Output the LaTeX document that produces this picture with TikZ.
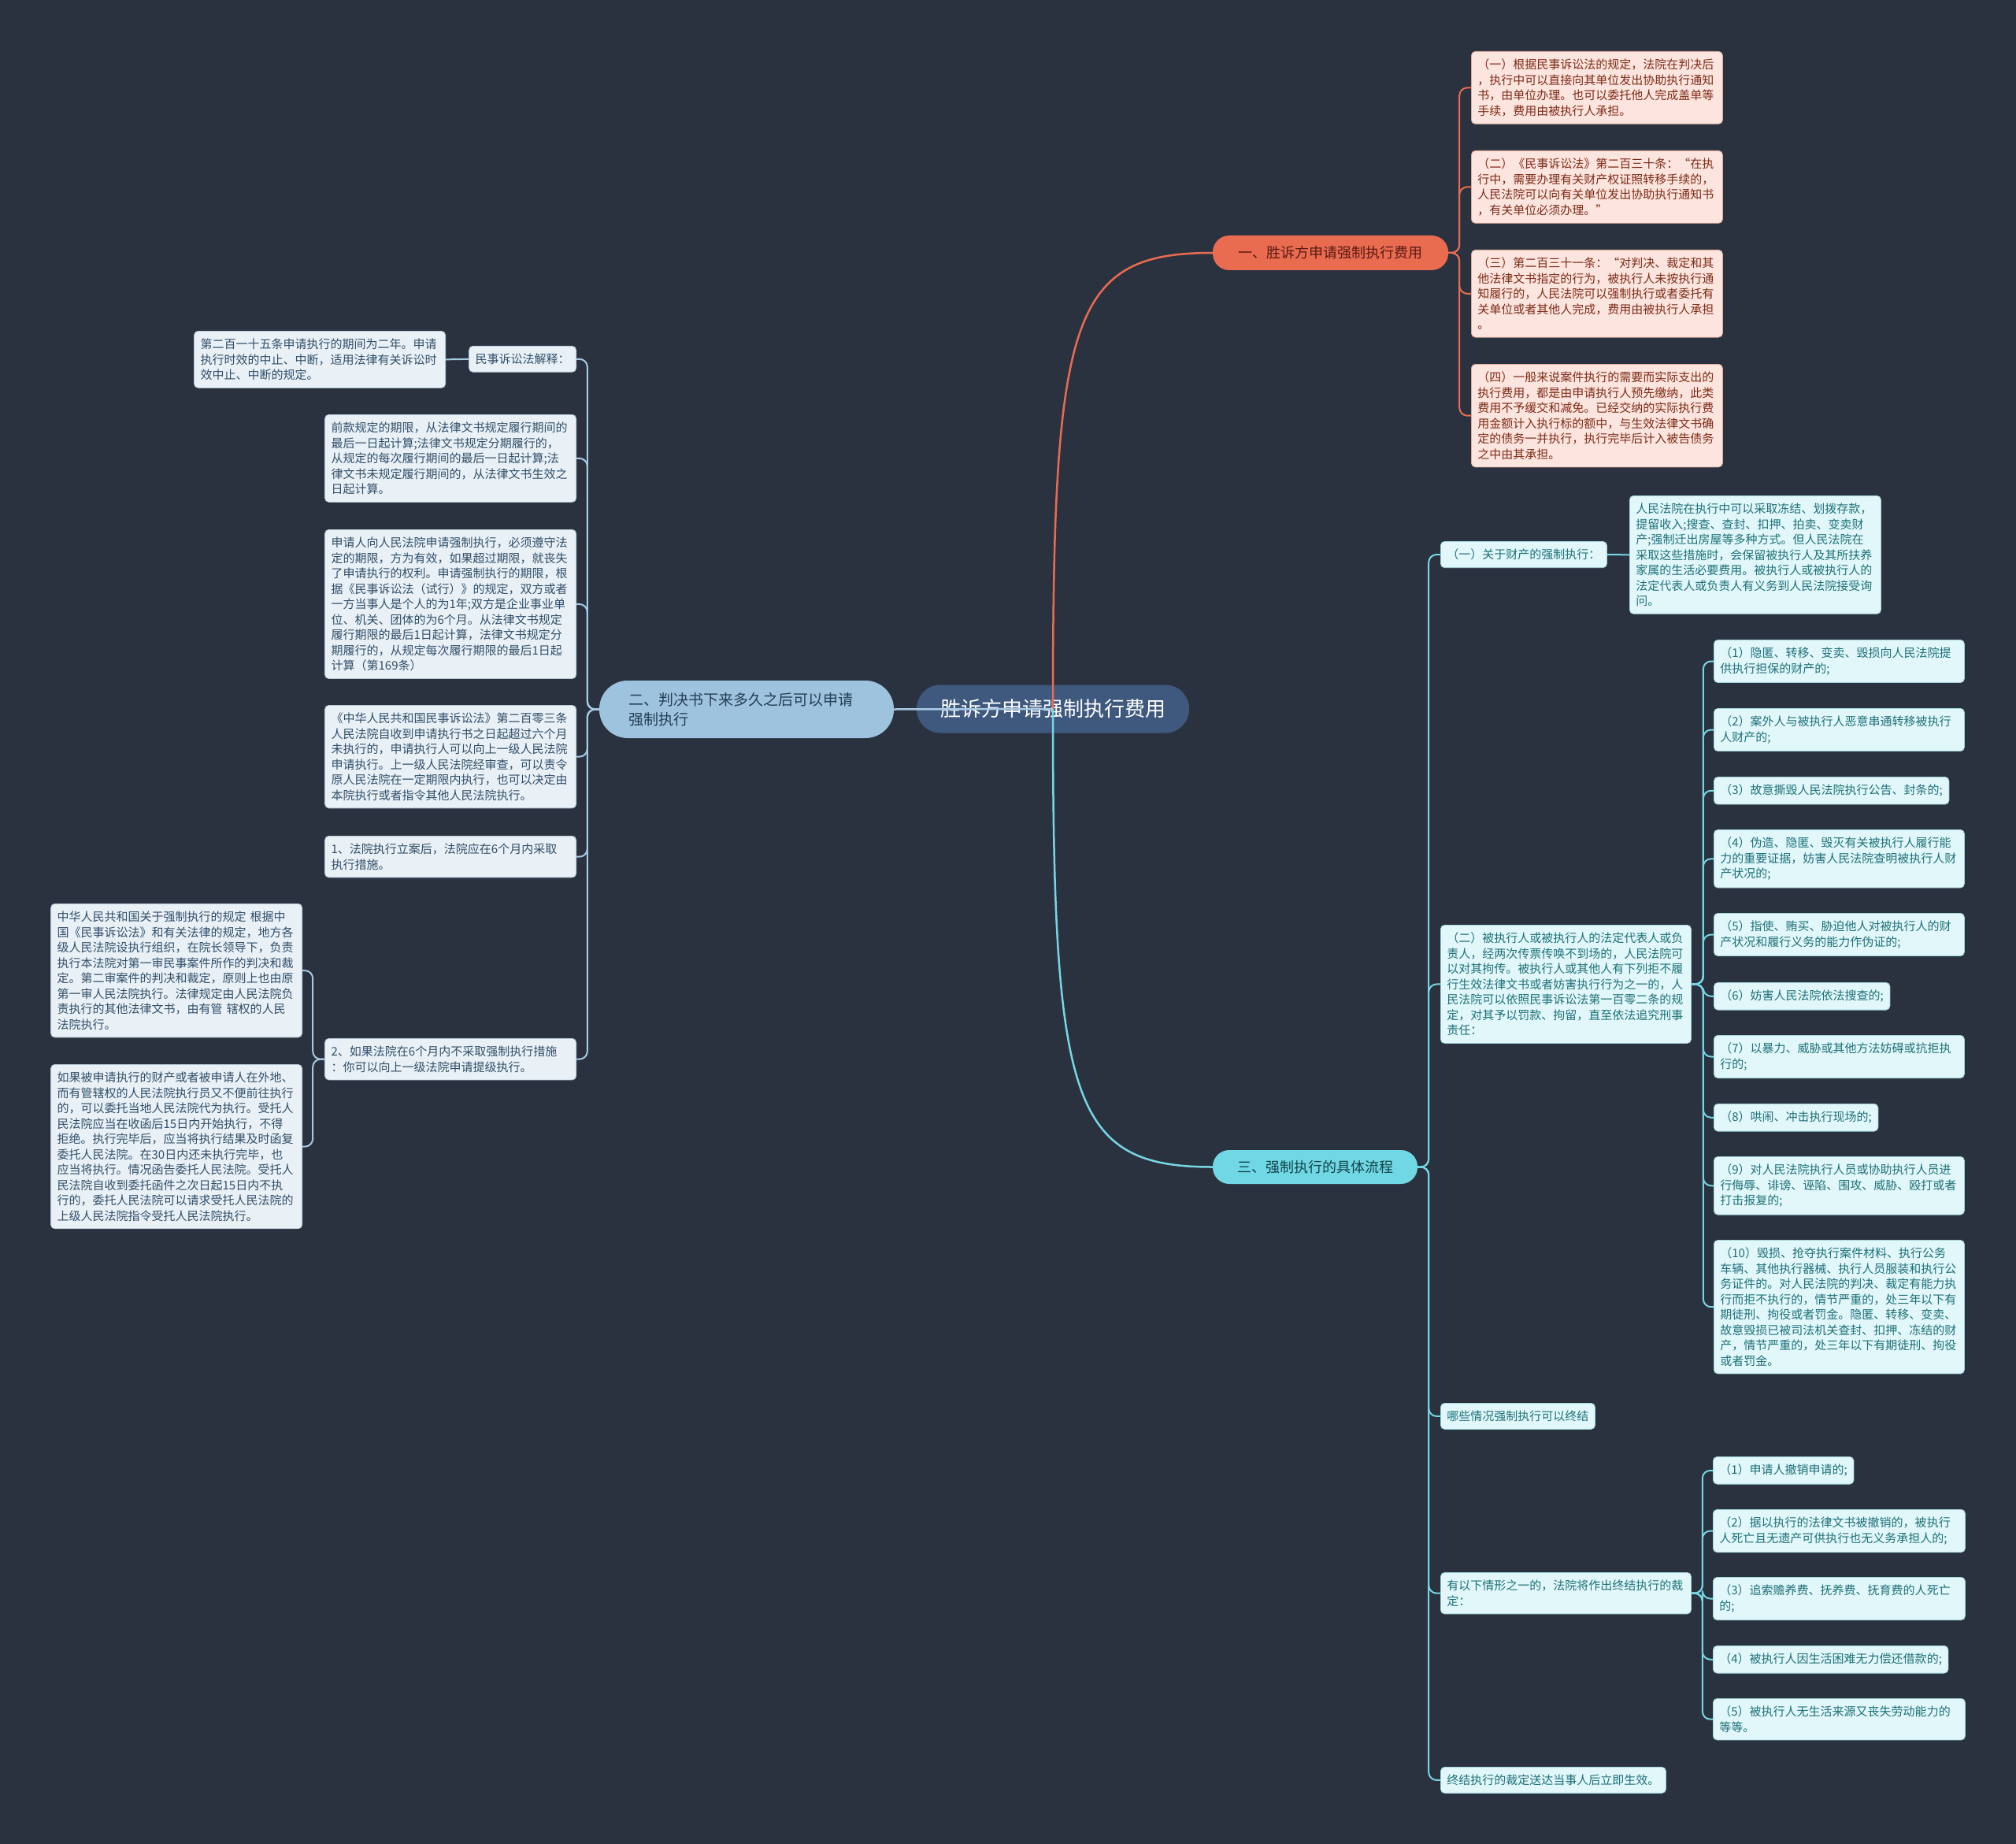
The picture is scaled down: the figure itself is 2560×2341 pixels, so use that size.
\documentclass[tikz,border=0pt]{standalone}
\usepackage{fontspec}
\setmainfont{Noto Sans CJK SC}
\usepackage{tikz}
\definecolor{bgnavy}{RGB}{42,50,64}
\definecolor{rootblue}{RGB}{62,89,125}
\definecolor{redmain}{RGB}{233,107,80}
\definecolor{redink}{RGB}{125,42,22}
\definecolor{redtopicink}{RGB}{88,26,20}
\definecolor{redleafbg}{RGB}{252,229,222}
\definecolor{redleafrim}{RGB}{222,170,152}
\definecolor{bluemain}{RGB}{157,195,222}
\definecolor{bluelinec}{RGB}{168,201,226}
\definecolor{blueink}{RGB}{48,78,104}
\definecolor{blueleafbg}{RGB}{233,241,247}
\definecolor{blueleafrim}{RGB}{180,200,216}
\definecolor{cyanmain}{RGB}{112,216,228}
\definecolor{cyanlinec}{RGB}{118,214,226}
\definecolor{cyanink}{RGB}{28,112,122}
\definecolor{cyanleafbg}{RGB}{226,247,249}
\definecolor{cyanleafrim}{RGB}{160,212,218}

\begin{document}
\begin{tikzpicture}[x=1pt, y=-1pt,
  txt/.style={font=\fontsize{15}{19.5}\selectfont, align=left, inner xsep=8pt, inner ysep=9.5pt, rounded corners=5pt, line width=0.8pt},
  redleaf/.style={txt, draw=redleafrim, fill=redleafbg, text=redink},
  blueleaf/.style={txt, draw=blueleafrim, fill=blueleafbg, text=blueink},
  cyanleaf/.style={txt, draw=cyanleafrim, fill=cyanleafbg, text=cyanink},
  topic/.style={font=\fontsize{18}{23}\selectfont, rounded corners=21pt, inner sep=0pt},
  redlink/.style={draw=redmain, line width=2pt, rounded corners=10pt},
  bluelink/.style={draw=bluelinec, line width=2pt, rounded corners=10pt},
  cyanlink/.style={draw=cyanlinec, line width=2pt, rounded corners=10pt}]

  % Background and page size
  \fill[bgnavy] (0,0) rectangle (2560,2341);
  \useasboundingbox (0,0) rectangle (2560,2341);

  % Root topic
  \node[fill=rootblue, text=white, font=\fontsize{26}{30}\selectfont, rounded corners=30pt, minimum width=346pt, minimum height=61pt, inner sep=0pt] (root) at (1337,900) {胜诉方申请强制执行费用};

  % Main topics
  \node[topic, fill=redmain, text=redtopicink, minimum width=299pt, minimum height=44pt] (fee) at (1689.5,321) {一、胜诉方申请强制执行费用};
  \node[fill=bluemain, text=blueink!80!black, font=\fontsize{19}{25}\selectfont, rounded corners=36pt, minimum width=374pt, minimum height=73pt, text width=300pt, align=left, inner sep=0pt] (when) at (948,900.5) {二、判决书下来多久之后可以申请\\强制执行};
  \node[topic, fill=cyanmain, text=cyanink!60!black, minimum width=260pt, minimum height=43pt] (flow) at (1670,1481.5) {三、强制执行的具体流程};

  % Branch one: cost items
  \node[redleaf, anchor=north west, text width=303pt] (cost1) at (1868,65) {（一）根据民事诉讼法的规定，法院在判决后\\，执行中可以直接向其单位发出协助执行通知\\书，由单位办理。也可以委托他人完成盖单等\\手续，费用由被执行人承担。};
  \node[redleaf, anchor=north west, text width=303pt] (cost2) at (1868,191) {（二）《民事诉讼法》第二百三十条：“在执\\行中，需要办理有关财产权证照转移手续的，\\人民法院可以向有关单位发出协助执行通知书\\，有关单位必须办理。”};
  \node[redleaf, anchor=north west, text width=303pt] (cost3) at (1868,317) {（三）第二百三十一条：“对判决、裁定和其\\他法律文书指定的行为，被执行人未按执行通\\知履行的，人民法院可以强制执行或者委托有\\关单位或者其他人完成，费用由被执行人承担\\。};
  \node[redleaf, anchor=north west, text width=303pt] (cost4) at (1868,462) {（四）一般来说案件执行的需要而实际支出的\\执行费用，都是由申请执行人预先缴纳，此类\\费用不予缓交和减免。已经交纳的实际执行费\\用金额计入执行标的额中，与生效法律文书确\\定的债务一并执行，执行完毕后计入被告债务\\之中由其承担。};

  % Branch two: time limits
  \node[blueleaf, anchor=north east] (interp) at (732,439) {民事诉讼法解释：};
  \node[blueleaf, anchor=north east, text width=303pt] (art215) at (566,420) {第二百一十五条申请执行的期间为二年。申请\\执行时效的中止、中断，适用法律有关诉讼时\\效中止、中断的规定。};
  \node[blueleaf, anchor=north east, text width=303pt] (period) at (732,526) {前款规定的期限，从法律文书规定履行期间的\\最后一日起计算;法律文书规定分期履行的，\\从规定的每次履行期间的最后一日起计算;法\\律文书未规定履行期间的，从法律文书生效之\\日起计算。};
  \node[blueleaf, anchor=north east, text width=303pt] (apply) at (732,672) {申请人向人民法院申请强制执行，必须遵守法\\定的期限，方为有效，如果超过期限，就丧失\\了申请执行的权利。申请强制执行的期限，根\\据《民事诉讼法（试行）》的规定，双方或者\\一方当事人是个人的为1年;双方是企业事业单\\位、机关、团体的为6个月。从法律文书规定\\履行期限的最后1日起计算，法律文书规定分\\期履行的，从规定每次履行期限的最后1日起\\计算（第169条）};
  \node[blueleaf, anchor=north east, text width=303pt] (art203) at (732,895) {《中华人民共和国民事诉讼法》第二百零三条\\人民法院自收到申请执行书之日起超过六个月\\未执行的，申请执行人可以向上一级人民法院\\申请执行。上一级人民法院经审查，可以责令\\原人民法院在一定期限内执行，也可以决定由\\本院执行或者指令其他人民法院执行。};
  \node[blueleaf, anchor=north east, text width=303pt] (step1) at (732,1061) {1、法院执行立案后，法院应在6个月内采取\\执行措施。};
  \node[blueleaf, anchor=north east, text width=303pt] (step2) at (732,1318) {2、如果法院在6个月内不采取强制执行措施\\：你可以向上一级法院申请提级执行。};
  \node[blueleaf, anchor=north east, text width=303pt] (rule) at (384,1147) {中华人民共和国关于强制执行的规定 根据中\\国《民事诉讼法》和有关法律的规定，地方各\\级人民法院设执行组织，在院长领导下，负责\\执行本法院对第一审民事案件所作的判决和裁\\定。第二审案件的判决和裁定，原则上也由原\\第一审人民法院执行。法律规定由人民法院负\\责执行的其他法律文书，由有管 辖权的人民\\法院执行。};
  \node[blueleaf, anchor=north east, text width=303pt] (entrust) at (384,1351) {如果被申请执行的财产或者被申请人在外地、\\而有管辖权的人民法院执行员又不便前往执行\\的，可以委托当地人民法院代为执行。受托人\\民法院应当在收函后15日内开始执行，不得\\拒绝。执行完毕后，应当将执行结果及时函复\\委托人民法院。在30日内还未执行完毕，也\\应当将执行。情况函告委托人民法院。受托人\\民法院自收到委托函件之次日起15日内不执\\行的，委托人民法院可以请求受托人民法院的\\上级人民法院指令受托人民法院执行。};

  % Branch three: enforcement steps
  \node[cyanleaf, anchor=north west] (prop) at (1829,687) {（一）关于财产的强制执行：};
  \node[cyanleaf, anchor=north west, text width=303pt] (propnote) at (2069,629) {人民法院在执行中可以采取冻结、划拨存款，\\提留收入;搜查、查封、扣押、拍卖、变卖财\\产;强制迁出房屋等多种方式。但人民法院在\\采取这些措施时，会保留被执行人及其所扶养\\家属的生活必要费用。被执行人或被执行人的\\法定代表人或负责人有义务到人民法院接受询\\问。};
  \node[cyanleaf, anchor=north west, text width=302pt] (person) at (1829,1174) {（二）被执行人或被执行人的法定代表人或负\\责人，经两次传票传唤不到场的，人民法院可\\以对其拘传。被执行人或其他人有下列拒不履\\行生效法律文书或者妨害执行行为之一的，人\\民法院可以依照民事诉讼法第一百零二条的规\\定，对其予以罚款、拘留，直至依法追究刑事\\责任：};
  \node[cyanleaf, anchor=north west, text width=302pt] (act1) at (2176,812) {（1）隐匿、转移、变卖、毁损向人民法院提\\供执行担保的财产的;};
  \node[cyanleaf, anchor=north west, text width=302pt] (act2) at (2176,899) {（2）案外人与被执行人恶意串通转移被执行\\人财产的;};
  \node[cyanleaf, anchor=north west] (act3) at (2176,986) {（3）故意撕毁人民法院执行公告、封条的;};
  \node[cyanleaf, anchor=north west, text width=302pt] (act4) at (2176,1053) {（4）伪造、隐匿、毁灭有关被执行人履行能\\力的重要证据，妨害人民法院查明被执行人财\\产状况的;};
  \node[cyanleaf, anchor=north west, text width=302pt] (act5) at (2176,1159) {（5）指使、贿买、胁迫他人对被执行人的财\\产状况和履行义务的能力作伪证的;};
  \node[cyanleaf, anchor=north west] (act6) at (2176,1247) {（6）妨害人民法院依法搜查的;};
  \node[cyanleaf, anchor=north west, text width=302pt] (act7) at (2176,1314) {（7）以暴力、威胁或其他方法妨碍或抗拒执\\行的;};
  \node[cyanleaf, anchor=north west] (act8) at (2176,1401) {（8）哄闹、冲击执行现场的;};
  \node[cyanleaf, anchor=north west, text width=302pt] (act9) at (2176,1468) {（9）对人民法院执行人员或协助执行人员进\\行侮辱、诽谤、诬陷、围攻、威胁、殴打或者\\打击报复的;};
  \node[cyanleaf, anchor=north west, text width=302pt] (act10) at (2176,1574) {（10）毁损、抢夺执行案件材料、执行公务\\车辆、其他执行器械、执行人员服装和执行公\\务证件的。对人民法院的判决、裁定有能力执\\行而拒不执行的，情节严重的，处三年以下有\\期徒刑、拘役或者罚金。隐匿、转移、变卖、\\故意毁损已被司法机关查封、扣押、冻结的财\\产，情节严重的，处三年以下有期徒刑、拘役\\或者罚金。};
  \node[cyanleaf, anchor=north west] (endq) at (1829,1781) {哪些情况强制执行可以终结};
  \node[cyanleaf, anchor=north west, text width=302pt] (endcase) at (1829,1996) {有以下情形之一的，法院将作出终结执行的裁\\定：};
  \node[cyanleaf, anchor=north west] (end1) at (2175,1849) {（1）申请人撤销申请的;};
  \node[cyanleaf, anchor=north west, text width=304pt] (end2) at (2175,1916) {（2）据以执行的法律文书被撤销的，被执行\\人死亡且无遗产可供执行也无义务承担人的;};
  \node[cyanleaf, anchor=north west, text width=304pt] (end3) at (2175,2002) {（3）追索赡养费、抚养费、抚育费的人死亡\\的;};
  \node[cyanleaf, anchor=north west] (end4) at (2175,2089) {（4）被执行人因生活困难无力偿还借款的;};
  \node[cyanleaf, anchor=north west, text width=304pt] (end5) at (2175,2156) {（5）被执行人无生活来源又丧失劳动能力的\\等等。};
  \node[cyanleaf, anchor=north west] (endfx) at (1829,2243) {终结执行的裁定送达当事人后立即生效。};

  % Root links, drawn over the root
  \draw[redmain, line width=2.5pt] (root.center) .. controls (1337,400) and (1360,321) .. (fee.west);
  \draw[cyanlinec, line width=2.5pt] (root.center) .. controls (1337,1400) and (1360,1481.5) .. (flow.west);
  \draw[bluelinec, line width=2.5pt] (root.center) -- (when.east);

  % Links of branch one
  \draw[redlink] (fee.east) -- ++(14,0) |- (cost1.west);
  \draw[redlink] (fee.east) -- ++(14,0) |- (cost2.west);
  \draw[redlink] (fee.east) -- ++(14,0) |- (cost3.west);
  \draw[redlink] (fee.east) -- ++(14,0) |- (cost4.west);

  % Links of branch two
  \draw[bluelink] (when.west) -- ++(-15,0) |- (interp.east);
  \draw[bluelink] (when.west) -- ++(-15,0) |- (period.east);
  \draw[bluelink] (when.west) -- ++(-15,0) |- (apply.east);
  \draw[bluelink] (when.west) -- ++(-15,0) |- (art203.east);
  \draw[bluelink] (when.west) -- ++(-15,0) |- (step1.east);
  \draw[bluelink] (when.west) -- ++(-15,0) |- (step2.east);
  \draw[bluelink] (interp.west) -- (art215.east);
  \draw[bluelink] (step2.west) -- ++(-15,0) |- (rule.east);
  \draw[bluelink] (step2.west) -- ++(-15,0) |- (entrust.east);

  % Links of branch three
  \draw[cyanlink] (flow.east) -- ++(14,0) |- (prop.west);
  \draw[cyanlink] (flow.east) -- ++(14,0) |- (person.west);
  \draw[cyanlink] (flow.east) -- ++(14,0) |- (endq.west);
  \draw[cyanlink] (flow.east) -- ++(14,0) |- (endcase.west);
  \draw[cyanlink] (flow.east) -- ++(14,0) |- (endfx.west);
  \draw[cyanlink] (prop.east) -- (propnote.west);
  \draw[cyanlink] (person.east) -- ++(15,0) |- (act1.west);
  \draw[cyanlink] (person.east) -- ++(15,0) |- (act2.west);
  \draw[cyanlink] (person.east) -- ++(15,0) |- (act3.west);
  \draw[cyanlink] (person.east) -- ++(15,0) |- (act4.west);
  \draw[cyanlink] (person.east) -- ++(15,0) |- (act5.west);
  \draw[cyanlink] (person.east) -- ++(15,0) |- (act6.west);
  \draw[cyanlink] (person.east) -- ++(15,0) |- (act7.west);
  \draw[cyanlink] (person.east) -- ++(15,0) |- (act8.west);
  \draw[cyanlink] (person.east) -- ++(15,0) |- (act9.west);
  \draw[cyanlink] (person.east) -- ++(15,0) |- (act10.west);
  \draw[cyanlink] (endcase.east) -- ++(14,0) |- (end1.west);
  \draw[cyanlink] (endcase.east) -- ++(14,0) |- (end2.west);
  \draw[cyanlink] (endcase.east) -- ++(14,0) |- (end3.west);
  \draw[cyanlink] (endcase.east) -- ++(14,0) |- (end4.west);
  \draw[cyanlink] (endcase.east) -- ++(14,0) |- (end5.west);
\end{tikzpicture}
\end{document}
